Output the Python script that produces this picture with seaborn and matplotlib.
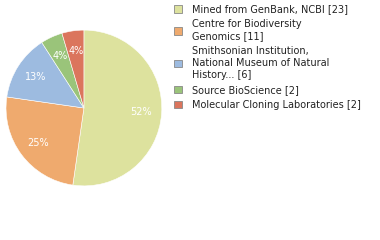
import matplotlib
matplotlib.use("Agg")
import matplotlib.pyplot as plt
import seaborn as sns
from matplotlib.patches import Patch

sns.set_theme(style="white")
plt.rcParams['font.family'] = ['DejaVu Sans']

categories = ["Mined from GenBank, NCBI", "Centre for Biodiversity\nGenomics",
              "Smithsonian Institution,\nNational Museum of Natural\nHistory...",
              "Source BioScience", "Molecular Cloning Laboratories"]
counts = [23, 11, 6, 2, 2]
pct_labels = ["52%", "25%", "13%", "4%", "4%"]
colors = ["#dde29e", "#efaa6e", "#9dbbe0", "#9ac47a", "#db755d"]

fig = plt.figure(figsize=(3.8, 2.4), dpi=100)
ax = fig.add_axes([0.0158, 0.225, 0.41, 0.65])
wedges, texts = ax.pie(counts, colors=colors, startangle=90, counterclock=False,
                       labels=pct_labels, labeldistance=0.74,
                       wedgeprops=dict(linewidth=0.4, edgecolor="white"),
                       textprops=dict(color="white", fontsize=7))
for t in texts:
    t.set_horizontalalignment("center")
    t.set_verticalalignment("center")
ax.set_xlim(-1, 1)
ax.set_ylim(-1, 1)
ax.set_aspect("equal")

handles = [Patch(facecolor=c, edgecolor="#888888", linewidth=0.6) for c in colors]
labels = [f"{c} [{n}]" for c, n in zip(categories, counts)]
leg = fig.legend(handles, labels, loc="upper left", bbox_to_anchor=(0.447, 0.998),
                 frameon=False, fontsize=7, handlelength=0.8, handleheight=0.8,
                 handletextpad=1.1, labelspacing=0.5, borderaxespad=0)
for t in leg.get_texts():
    t.set_color("#222222")
    t.set_linespacing(1.25)
fig.savefig("out.png", dpi=100)
